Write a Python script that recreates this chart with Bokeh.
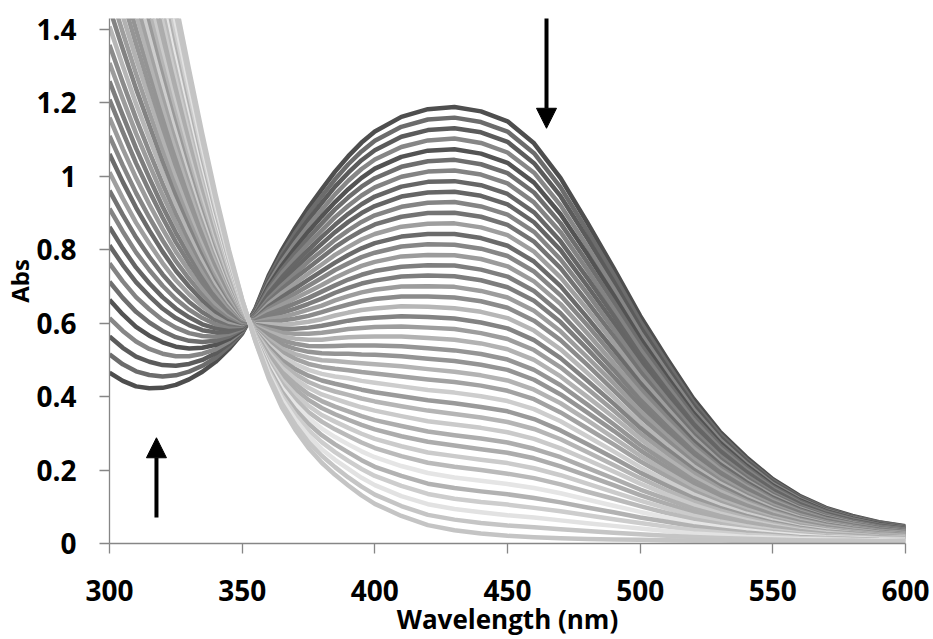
from bokeh.plotting import figure
from bokeh.models import Range1d, FixedTicker, NumeralTickFormatter, Arrow, NormalHead
from bokeh.embed import file_html
from bokeh.resources import INLINE

# Wavelength sampling (nm)
wavelength = [300, 305, 310, 315, 320, 325, 330, 335, 340, 345, 350, 355, 360, 365, 370,
              375, 380, 385, 390, 395, 400, 410, 420, 430, 440, 450, 460, 470, 480, 490,
              500, 510, 520, 530, 540, 550, 560, 570, 580, 590, 600]

# Absorbance spectra, first (darkest, top band) to last (lightest)
absorbance = [
    [0.465, 0.443, 0.428, 0.423, 0.424, 0.432, 0.447, 0.468, 0.495, 0.530, 0.572, 0.640, 0.730, 0.800, 0.860, 0.915, 0.965, 1.013, 1.055, 1.092, 1.122, 1.162, 1.183, 1.189, 1.177, 1.150, 1.090, 0.995, 0.875, 0.750, 0.620, 0.505, 0.395, 0.305, 0.235, 0.175, 0.130, 0.097, 0.075, 0.058, 0.047],
    [0.515, 0.488, 0.469, 0.459, 0.455, 0.458, 0.468, 0.484, 0.506, 0.537, 0.574, 0.638, 0.723, 0.789, 0.846, 0.899, 0.946, 0.992, 1.033, 1.068, 1.097, 1.135, 1.155, 1.160, 1.148, 1.122, 1.063, 0.970, 0.853, 0.732, 0.605, 0.493, 0.385, 0.298, 0.229, 0.171, 0.127, 0.095, 0.073, 0.057, 0.046],
    [0.564, 0.533, 0.509, 0.495, 0.486, 0.484, 0.489, 0.500, 0.518, 0.544, 0.577, 0.636, 0.716, 0.779, 0.833, 0.882, 0.928, 0.972, 1.010, 1.044, 1.071, 1.108, 1.126, 1.131, 1.120, 1.094, 1.036, 0.946, 0.832, 0.713, 0.590, 0.480, 0.376, 0.290, 0.224, 0.167, 0.124, 0.092, 0.072, 0.055, 0.045],
    [0.614, 0.579, 0.550, 0.530, 0.517, 0.510, 0.510, 0.517, 0.529, 0.550, 0.579, 0.633, 0.709, 0.768, 0.819, 0.866, 0.909, 0.951, 0.988, 1.020, 1.046, 1.080, 1.098, 1.103, 1.091, 1.065, 1.010, 0.921, 0.810, 0.695, 0.574, 0.468, 0.366, 0.283, 0.218, 0.162, 0.121, 0.090, 0.070, 0.054, 0.044],
    [0.664, 0.624, 0.590, 0.566, 0.548, 0.536, 0.531, 0.533, 0.541, 0.557, 0.581, 0.631, 0.702, 0.757, 0.805, 0.850, 0.891, 0.930, 0.965, 0.996, 1.021, 1.053, 1.070, 1.074, 1.062, 1.037, 0.983, 0.897, 0.789, 0.676, 0.559, 0.455, 0.356, 0.275, 0.212, 0.158, 0.118, 0.088, 0.068, 0.053, 0.043],
    [0.713, 0.669, 0.631, 0.602, 0.579, 0.562, 0.552, 0.549, 0.552, 0.564, 0.584, 0.629, 0.695, 0.746, 0.791, 0.833, 0.872, 0.910, 0.943, 0.972, 0.995, 1.026, 1.041, 1.045, 1.033, 1.009, 0.956, 0.872, 0.767, 0.658, 0.544, 0.443, 0.347, 0.268, 0.207, 0.154, 0.115, 0.086, 0.066, 0.051, 0.042],
    [0.763, 0.714, 0.671, 0.638, 0.609, 0.588, 0.573, 0.565, 0.563, 0.571, 0.586, 0.627, 0.688, 0.736, 0.778, 0.817, 0.853, 0.889, 0.920, 0.948, 0.970, 0.999, 1.013, 1.016, 1.005, 0.981, 0.929, 0.848, 0.746, 0.639, 0.529, 0.431, 0.337, 0.260, 0.201, 0.150, 0.111, 0.083, 0.065, 0.050, 0.041],
    [0.812, 0.759, 0.712, 0.674, 0.640, 0.614, 0.595, 0.581, 0.575, 0.577, 0.588, 0.624, 0.681, 0.725, 0.764, 0.800, 0.835, 0.868, 0.898, 0.924, 0.945, 0.972, 0.985, 0.987, 0.976, 0.952, 0.902, 0.823, 0.724, 0.621, 0.513, 0.418, 0.327, 0.253, 0.195, 0.146, 0.108, 0.081, 0.063, 0.049, 0.040],
    [0.862, 0.804, 0.752, 0.709, 0.671, 0.640, 0.616, 0.597, 0.586, 0.584, 0.591, 0.622, 0.674, 0.714, 0.750, 0.784, 0.816, 0.848, 0.876, 0.900, 0.919, 0.945, 0.956, 0.958, 0.947, 0.924, 0.875, 0.799, 0.702, 0.602, 0.498, 0.406, 0.318, 0.246, 0.189, 0.141, 0.105, 0.079, 0.061, 0.047, 0.039],
    [0.912, 0.850, 0.793, 0.745, 0.702, 0.666, 0.637, 0.614, 0.597, 0.591, 0.593, 0.620, 0.667, 0.703, 0.736, 0.768, 0.797, 0.827, 0.853, 0.876, 0.894, 0.917, 0.928, 0.930, 0.918, 0.896, 0.849, 0.774, 0.681, 0.584, 0.483, 0.393, 0.308, 0.238, 0.184, 0.137, 0.102, 0.077, 0.059, 0.046, 0.038],
    [0.961, 0.895, 0.834, 0.781, 0.733, 0.692, 0.658, 0.630, 0.609, 0.598, 0.595, 0.618, 0.660, 0.693, 0.723, 0.751, 0.779, 0.807, 0.831, 0.852, 0.869, 0.890, 0.900, 0.901, 0.890, 0.868, 0.822, 0.750, 0.659, 0.565, 0.468, 0.381, 0.298, 0.231, 0.178, 0.133, 0.099, 0.074, 0.058, 0.045, 0.037],
    [1.011, 0.940, 0.874, 0.817, 0.764, 0.717, 0.679, 0.646, 0.620, 0.604, 0.598, 0.615, 0.653, 0.682, 0.709, 0.735, 0.760, 0.786, 0.808, 0.828, 0.843, 0.863, 0.871, 0.872, 0.861, 0.840, 0.795, 0.725, 0.638, 0.547, 0.452, 0.369, 0.289, 0.223, 0.172, 0.129, 0.096, 0.072, 0.056, 0.043, 0.035],
    [1.061, 0.985, 0.915, 0.853, 0.795, 0.743, 0.700, 0.662, 0.632, 0.611, 0.600, 0.613, 0.646, 0.671, 0.695, 0.719, 0.742, 0.765, 0.786, 0.804, 0.818, 0.836, 0.843, 0.843, 0.832, 0.811, 0.768, 0.701, 0.616, 0.528, 0.437, 0.356, 0.279, 0.216, 0.167, 0.125, 0.093, 0.070, 0.054, 0.042, 0.034],
    [1.110, 1.030, 0.955, 0.888, 0.826, 0.769, 0.721, 0.678, 0.643, 0.618, 0.602, 0.611, 0.639, 0.660, 0.681, 0.702, 0.723, 0.745, 0.763, 0.780, 0.792, 0.809, 0.815, 0.814, 0.803, 0.783, 0.741, 0.676, 0.595, 0.510, 0.422, 0.344, 0.269, 0.208, 0.161, 0.120, 0.090, 0.067, 0.053, 0.041, 0.033],
    [1.160, 1.075, 0.996, 0.924, 0.857, 0.795, 0.742, 0.694, 0.654, 0.625, 0.605, 0.609, 0.632, 0.650, 0.668, 0.686, 0.704, 0.724, 0.741, 0.756, 0.767, 0.782, 0.786, 0.785, 0.775, 0.755, 0.714, 0.652, 0.573, 0.491, 0.407, 0.331, 0.260, 0.201, 0.155, 0.116, 0.087, 0.065, 0.051, 0.039, 0.032],
    [1.209, 1.121, 1.036, 0.960, 0.888, 0.821, 0.763, 0.711, 0.666, 0.631, 0.607, 0.606, 0.625, 0.639, 0.654, 0.669, 0.686, 0.703, 0.719, 0.732, 0.742, 0.754, 0.758, 0.757, 0.746, 0.727, 0.688, 0.627, 0.551, 0.473, 0.391, 0.319, 0.250, 0.194, 0.150, 0.112, 0.084, 0.063, 0.049, 0.038, 0.031],
    [1.259, 1.166, 1.077, 0.996, 0.918, 0.847, 0.784, 0.727, 0.677, 0.638, 0.609, 0.604, 0.618, 0.628, 0.640, 0.653, 0.667, 0.683, 0.696, 0.708, 0.716, 0.727, 0.730, 0.728, 0.717, 0.698, 0.661, 0.603, 0.530, 0.454, 0.376, 0.307, 0.240, 0.186, 0.144, 0.108, 0.080, 0.061, 0.047, 0.037, 0.030],
    [1.309, 1.211, 1.117, 1.032, 0.949, 0.873, 0.805, 0.743, 0.688, 0.645, 0.612, 0.602, 0.611, 0.617, 0.626, 0.637, 0.648, 0.662, 0.674, 0.684, 0.691, 0.700, 0.701, 0.699, 0.688, 0.670, 0.634, 0.578, 0.508, 0.436, 0.361, 0.294, 0.231, 0.179, 0.138, 0.104, 0.077, 0.058, 0.046, 0.035, 0.029],
    [1.358, 1.256, 1.158, 1.067, 0.980, 0.899, 0.826, 0.759, 0.700, 0.652, 0.614, 0.600, 0.604, 0.607, 0.613, 0.620, 0.630, 0.641, 0.651, 0.660, 0.666, 0.673, 0.673, 0.670, 0.660, 0.642, 0.607, 0.554, 0.487, 0.417, 0.346, 0.282, 0.221, 0.171, 0.132, 0.099, 0.074, 0.056, 0.044, 0.034, 0.028],
    [1.408, 1.301, 1.198, 1.103, 1.011, 0.925, 0.847, 0.775, 0.711, 0.658, 0.616, 0.597, 0.597, 0.596, 0.599, 0.604, 0.611, 0.621, 0.629, 0.636, 0.640, 0.646, 0.645, 0.641, 0.631, 0.614, 0.580, 0.529, 0.465, 0.399, 0.330, 0.269, 0.211, 0.164, 0.127, 0.095, 0.071, 0.054, 0.042, 0.033, 0.027],
    [1.458, 1.347, 1.239, 1.139, 1.042, 0.951, 0.869, 0.792, 0.723, 0.665, 0.619, 0.595, 0.590, 0.585, 0.585, 0.588, 0.593, 0.600, 0.607, 0.612, 0.615, 0.619, 0.617, 0.613, 0.602, 0.586, 0.554, 0.505, 0.444, 0.381, 0.315, 0.257, 0.202, 0.157, 0.121, 0.091, 0.068, 0.052, 0.041, 0.032, 0.026],
    [1.507, 1.392, 1.280, 1.175, 1.073, 0.977, 0.890, 0.808, 0.734, 0.672, 0.621, 0.593, 0.583, 0.574, 0.571, 0.571, 0.574, 0.579, 0.584, 0.587, 0.590, 0.591, 0.588, 0.584, 0.573, 0.557, 0.527, 0.480, 0.422, 0.362, 0.300, 0.245, 0.192, 0.149, 0.115, 0.087, 0.065, 0.049, 0.039, 0.030, 0.025],
    [1.557, 1.437, 1.320, 1.211, 1.104, 1.003, 0.911, 0.824, 0.745, 0.679, 0.623, 0.591, 0.576, 0.564, 0.558, 0.555, 0.555, 0.559, 0.562, 0.563, 0.564, 0.564, 0.560, 0.555, 0.545, 0.529, 0.500, 0.455, 0.400, 0.344, 0.285, 0.232, 0.182, 0.142, 0.110, 0.083, 0.062, 0.047, 0.037, 0.029, 0.024],
    [1.606, 1.482, 1.361, 1.246, 1.135, 1.029, 0.932, 0.840, 0.757, 0.685, 0.625, 0.588, 0.569, 0.553, 0.544, 0.538, 0.537, 0.538, 0.539, 0.539, 0.539, 0.537, 0.532, 0.526, 0.516, 0.501, 0.473, 0.431, 0.379, 0.325, 0.269, 0.220, 0.172, 0.134, 0.104, 0.078, 0.059, 0.045, 0.035, 0.028, 0.023],
    [1.656, 1.527, 1.401, 1.282, 1.166, 1.055, 0.953, 0.856, 0.768, 0.692, 0.628, 0.586, 0.562, 0.542, 0.530, 0.522, 0.518, 0.517, 0.517, 0.515, 0.514, 0.510, 0.503, 0.497, 0.487, 0.473, 0.446, 0.406, 0.357, 0.307, 0.254, 0.207, 0.163, 0.127, 0.098, 0.074, 0.056, 0.042, 0.034, 0.026, 0.022],
    [1.706, 1.572, 1.442, 1.318, 1.197, 1.081, 0.974, 0.872, 0.779, 0.699, 0.630, 0.584, 0.555, 0.531, 0.516, 0.506, 0.499, 0.497, 0.494, 0.491, 0.488, 0.483, 0.475, 0.468, 0.458, 0.444, 0.419, 0.382, 0.336, 0.288, 0.239, 0.195, 0.153, 0.119, 0.093, 0.070, 0.053, 0.040, 0.032, 0.025, 0.021],
    [1.755, 1.618, 1.482, 1.354, 1.227, 1.107, 0.995, 0.889, 0.791, 0.706, 0.632, 0.582, 0.548, 0.521, 0.503, 0.489, 0.481, 0.476, 0.472, 0.467, 0.463, 0.455, 0.447, 0.440, 0.430, 0.416, 0.393, 0.357, 0.314, 0.270, 0.224, 0.183, 0.143, 0.112, 0.087, 0.066, 0.049, 0.038, 0.030, 0.024, 0.020],
    [1.805, 1.663, 1.523, 1.390, 1.258, 1.133, 1.016, 0.905, 0.802, 0.712, 0.635, 0.579, 0.541, 0.510, 0.489, 0.473, 0.462, 0.455, 0.450, 0.443, 0.438, 0.428, 0.418, 0.411, 0.401, 0.388, 0.366, 0.333, 0.292, 0.251, 0.208, 0.170, 0.134, 0.105, 0.081, 0.062, 0.046, 0.036, 0.028, 0.022, 0.019],
    [1.855, 1.708, 1.563, 1.425, 1.289, 1.159, 1.037, 0.921, 0.814, 0.719, 0.637, 0.577, 0.534, 0.499, 0.475, 0.457, 0.444, 0.435, 0.427, 0.419, 0.412, 0.401, 0.390, 0.382, 0.372, 0.360, 0.339, 0.308, 0.271, 0.233, 0.193, 0.158, 0.124, 0.097, 0.075, 0.057, 0.043, 0.033, 0.027, 0.021, 0.018],
    [1.904, 1.753, 1.604, 1.461, 1.320, 1.185, 1.058, 0.937, 0.825, 0.726, 0.639, 0.575, 0.527, 0.488, 0.461, 0.440, 0.425, 0.414, 0.405, 0.395, 0.387, 0.374, 0.362, 0.353, 0.343, 0.331, 0.312, 0.284, 0.249, 0.214, 0.178, 0.145, 0.114, 0.090, 0.070, 0.053, 0.040, 0.031, 0.025, 0.020, 0.017],
    [1.954, 1.798, 1.645, 1.497, 1.351, 1.211, 1.079, 0.953, 0.836, 0.733, 0.642, 0.573, 0.520, 0.478, 0.448, 0.424, 0.406, 0.394, 0.382, 0.371, 0.362, 0.347, 0.333, 0.324, 0.315, 0.303, 0.285, 0.259, 0.228, 0.196, 0.163, 0.133, 0.105, 0.082, 0.064, 0.049, 0.037, 0.029, 0.023, 0.018, 0.016],
    [2.003, 1.843, 1.685, 1.533, 1.382, 1.236, 1.100, 0.969, 0.848, 0.739, 0.644, 0.570, 0.513, 0.467, 0.434, 0.407, 0.388, 0.373, 0.360, 0.347, 0.336, 0.320, 0.305, 0.295, 0.286, 0.275, 0.258, 0.235, 0.206, 0.177, 0.147, 0.121, 0.095, 0.075, 0.058, 0.045, 0.034, 0.026, 0.022, 0.017, 0.014],
    [2.053, 1.889, 1.726, 1.569, 1.413, 1.262, 1.121, 0.986, 0.859, 0.746, 0.646, 0.568, 0.506, 0.456, 0.420, 0.391, 0.369, 0.352, 0.337, 0.323, 0.311, 0.292, 0.277, 0.267, 0.257, 0.247, 0.232, 0.210, 0.185, 0.159, 0.132, 0.108, 0.085, 0.067, 0.053, 0.041, 0.031, 0.024, 0.020, 0.016, 0.013],
    [2.103, 1.934, 1.766, 1.604, 1.444, 1.288, 1.142, 1.002, 0.870, 0.753, 0.649, 0.566, 0.499, 0.445, 0.406, 0.375, 0.350, 0.332, 0.315, 0.299, 0.285, 0.265, 0.248, 0.238, 0.228, 0.219, 0.205, 0.186, 0.163, 0.140, 0.117, 0.096, 0.076, 0.060, 0.047, 0.036, 0.028, 0.022, 0.018, 0.014, 0.012],
    [2.152, 1.979, 1.807, 1.640, 1.475, 1.314, 1.164, 1.018, 0.882, 0.760, 0.651, 0.564, 0.492, 0.435, 0.393, 0.358, 0.332, 0.311, 0.293, 0.275, 0.260, 0.238, 0.220, 0.209, 0.200, 0.190, 0.178, 0.161, 0.141, 0.122, 0.102, 0.083, 0.066, 0.053, 0.041, 0.032, 0.025, 0.020, 0.016, 0.013, 0.011],
    [2.202, 2.024, 1.847, 1.676, 1.506, 1.340, 1.185, 1.034, 0.893, 0.766, 0.653, 0.561, 0.485, 0.424, 0.379, 0.342, 0.313, 0.290, 0.270, 0.251, 0.235, 0.211, 0.192, 0.180, 0.171, 0.162, 0.151, 0.137, 0.120, 0.103, 0.086, 0.071, 0.056, 0.045, 0.036, 0.028, 0.022, 0.017, 0.015, 0.012, 0.010],
    [2.252, 2.069, 1.888, 1.712, 1.536, 1.366, 1.206, 1.050, 0.905, 0.773, 0.656, 0.559, 0.478, 0.413, 0.365, 0.326, 0.295, 0.270, 0.248, 0.227, 0.209, 0.184, 0.163, 0.151, 0.142, 0.134, 0.124, 0.112, 0.098, 0.085, 0.071, 0.059, 0.047, 0.038, 0.030, 0.024, 0.018, 0.015, 0.013, 0.010, 0.009],
    [2.301, 2.114, 1.928, 1.748, 1.567, 1.392, 1.227, 1.066, 0.916, 0.780, 0.658, 0.557, 0.471, 0.402, 0.351, 0.309, 0.276, 0.249, 0.225, 0.203, 0.184, 0.157, 0.135, 0.122, 0.113, 0.106, 0.097, 0.088, 0.077, 0.066, 0.056, 0.046, 0.037, 0.030, 0.024, 0.020, 0.015, 0.013, 0.011, 0.009, 0.008],
    [2.351, 2.160, 1.969, 1.783, 1.598, 1.418, 1.248, 1.083, 0.927, 0.787, 0.660, 0.555, 0.464, 0.392, 0.338, 0.293, 0.257, 0.228, 0.203, 0.179, 0.159, 0.129, 0.107, 0.094, 0.085, 0.077, 0.071, 0.063, 0.055, 0.048, 0.041, 0.034, 0.027, 0.023, 0.018, 0.015, 0.012, 0.011, 0.009, 0.008, 0.007],
    [2.400, 2.205, 2.009, 1.819, 1.629, 1.444, 1.269, 1.099, 0.939, 0.793, 0.663, 0.552, 0.457, 0.381, 0.324, 0.276, 0.239, 0.208, 0.180, 0.155, 0.133, 0.102, 0.078, 0.065, 0.056, 0.049, 0.044, 0.039, 0.034, 0.029, 0.025, 0.021, 0.018, 0.015, 0.013, 0.011, 0.009, 0.008, 0.008, 0.006, 0.006],
    [2.450, 2.250, 2.050, 1.855, 1.660, 1.470, 1.290, 1.115, 0.950, 0.800, 0.665, 0.550, 0.450, 0.370, 0.310, 0.260, 0.220, 0.187, 0.158, 0.131, 0.108, 0.075, 0.050, 0.036, 0.027, 0.021, 0.017, 0.014, 0.012, 0.011, 0.010, 0.009, 0.008, 0.008, 0.007, 0.007, 0.006, 0.006, 0.006, 0.005, 0.005],
]

x_ticks = [300, 350, 400, 450, 500, 550, 600]
y_ticks = [0, 0.2, 0.4, 0.6, 0.8, 1, 1.2, 1.4]

x_title = "Wavelength (nm)"
y_title = "Abs"

# Arrow annotations (data units): rise at ~318 nm, fall at ~465 nm
up_arrow = dict(x=317.7, y0=0.071, y1=0.288)
down_arrow = dict(x=464.7, y0=1.44, y1=1.131)

FONT = "Open Sans"

p = figure(width=933, height=639, output_backend="svg", toolbar_location=None,
           x_range=Range1d(300, 600), y_range=Range1d(0, 1.43),
           min_border_left=108, min_border_right=28, min_border_top=18,
           min_border_bottom=95)
p.outline_line_color = None
p.grid.visible = False
p.background_fill_color = "white"
p.border_fill_color = "white"

n = len(absorbance)
offsets = [0, 28, 8, 48, -6, 18, 36, 4]
colors = []
for i in range(n):
    g = int(78 + 118 * i / (n - 1) + offsets[i % len(offsets)])
    g = max(60, min(232, g))
    colors.append("#%02x%02x%02x" % (g, g, g))

p.multi_line([wavelength] * n, absorbance, line_color=colors, line_width=4.5,
             line_join="round")

for a in (up_arrow, down_arrow):
    p.add_layout(Arrow(end=NormalHead(size=20, fill_color="black", line_color="black"),
                       x_start=a["x"], y_start=a["y0"], x_end=a["x"], y_end=a["y1"],
                       line_width=4, line_color="black"))

p.xaxis.ticker = FixedTicker(ticks=x_ticks)
p.yaxis.ticker = FixedTicker(ticks=y_ticks)
p.yaxis.formatter = NumeralTickFormatter(format="0.[0]")

for ax in (p.xaxis, p.yaxis):
    ax.axis_line_color = "#868686"
    ax.axis_line_width = 1.3
    ax.major_tick_line_color = "#868686"
    ax.major_tick_line_width = 1.3
    ax.major_tick_out = 10
    ax.major_tick_in = 0
    ax.minor_tick_out = 0
    ax.minor_tick_in = 0
    ax.major_label_text_font = FONT
    ax.major_label_text_font_style = "bold"
    ax.major_label_text_font_size = "28px"
    ax.major_label_text_color = "black"
    ax.axis_label_text_font = FONT
    ax.axis_label_text_font_style = "bold"
    ax.axis_label_text_color = "black"

p.xaxis.axis_label = x_title
p.yaxis.axis_label = y_title
p.xaxis.axis_label_text_font_size = "26px"
p.yaxis.axis_label_text_font_size = "24px"
p.xaxis.major_label_standoff = 26
p.yaxis.major_label_standoff = 23
p.xaxis.axis_label_standoff = -3
p.yaxis.axis_label_standoff = -3

open("out.html", "w").write(file_html(p, INLINE))
